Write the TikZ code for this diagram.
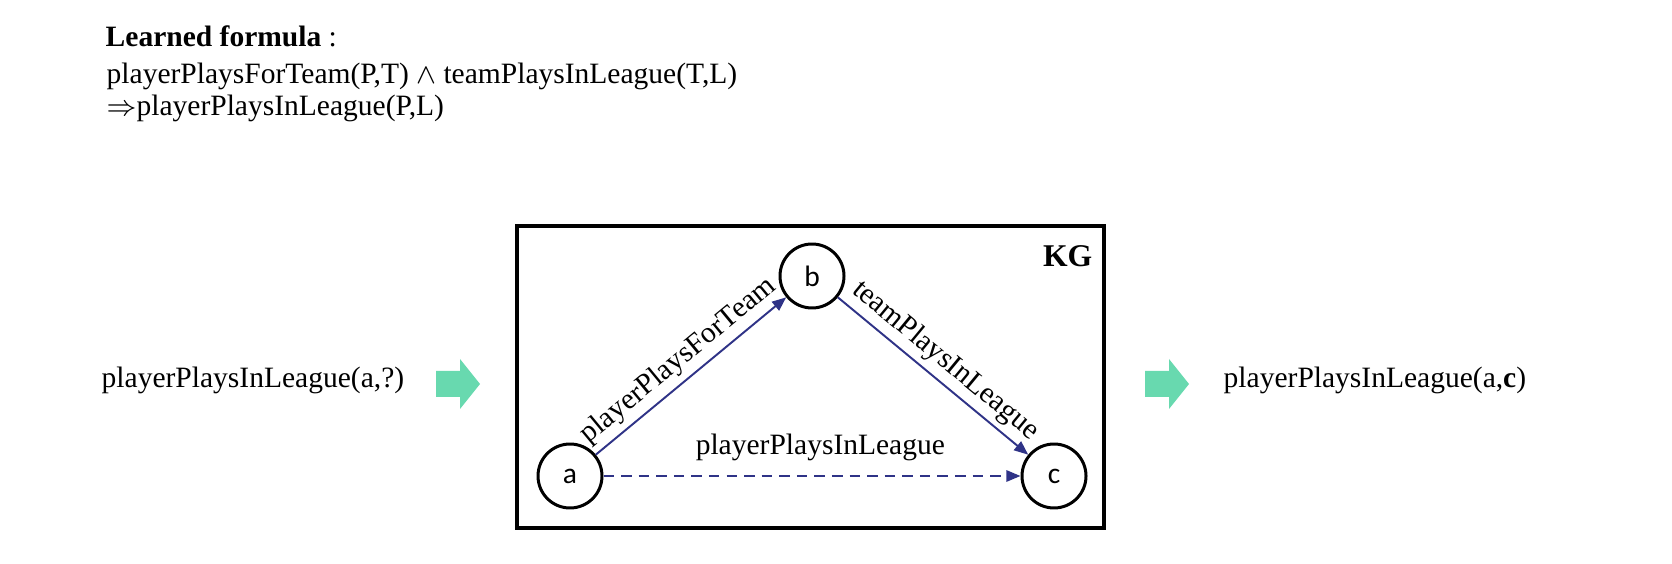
\documentclass[tikz,border=0pt]{standalone}
\usepackage{fontspec}
\setmainfont{Liberation Serif}
\newfontfamily\entityfont{Carlito}
\usepackage{tikz}
\usetikzlibrary{arrows.meta, positioning}
\definecolor{edgeblue}{RGB}{47,51,135}
\definecolor{flowgreen}{RGB}{104,217,175}

\begin{document}
\begin{tikzpicture}[
    every node/.style={font=\fontsize{8.4}{10}\selectfont},
    entity/.style={circle, draw, line width=0.85pt, minimum size=0.64cm, inner sep=0pt, font=\entityfont\fontsize{8.4}{10}\selectfont},
    rel/.style={edgeblue, line width=0.55pt, -{Triangle[length=4pt,width=3.2pt]}},
    rellabel/.style={text=black, inner sep=1.5pt}
]
    \useasboundingbox (0,0) rectangle (16.72,5.63);

    % Learned formula
    \node[anchor=base west, inner sep=0pt] (ftitle) at (1.05,5.16) {\textbf{Learned formula} :};
    \node[anchor=base west, inner sep=0pt] (fbody) at (1.06,4.795) {playerPlaysForTeam(P,T) $\wedge$ teamPlaysInLeague(T,L)};
    \node[anchor=base west, inner sep=0pt] (fhead) at (1.06,4.47) {$\Rightarrow$playerPlaysInLeague(P,L)};

    % Query and answer
    \node[anchor=base west, inner sep=0pt] (query) at (1.01,1.75) {playerPlaysInLeague(a,?)};
    \node[anchor=base west, inner sep=0pt] (answer) at (12.23,1.75) {playerPlaysInLeague(a,\textbf{c})};
    \foreach \x in {4.36, 11.45}
        \fill[flowgreen] (\x,1.66) -- ++(0.24,0) -- ++(0,-0.12) -- ++(0.20,0.25)
            -- ++(-0.20,0.25) -- ++(0,-0.12) -- ++(-0.24,0) -- cycle;

    % KG box
    \draw[line width=1pt] (5.17,0.35) rectangle (11.04,3.37);
    \node[anchor=north east, inner sep=0pt, font=\bfseries\fontsize{9}{11}\selectfont] (kg) at (10.93,3.18) {KG};

    % Entities
    \node[entity] (a) at (5.70,0.87) {a};
    \node[entity] (b) at (8.12,2.87) {b};
    \node[entity] (c) at (10.54,0.87) {c};

    % Relations
    \draw[rel] (a) -- node[above, sloped, rellabel] {playerPlaysForTeam} (b);
    \draw[rel] (b) -- node[above, sloped, rellabel] {teamPlaysInLeague} (c);
    \draw[rel, dash pattern=on 3pt off 2pt] (a) -- node[above, pos=0.52, rellabel, inner sep=4pt] {playerPlaysInLeague} (c);
\end{tikzpicture}
\end{document}
